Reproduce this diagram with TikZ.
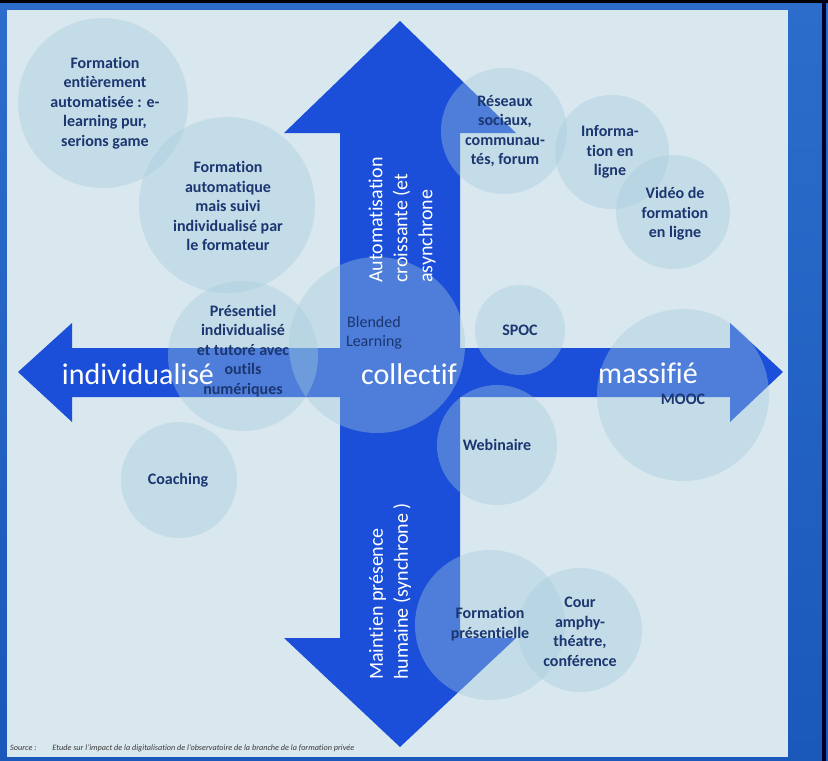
\documentclass[tikz,border=0pt]{standalone}
\usepackage{fontspec}
\setmainfont[Ligatures=NoCommon]{Carlito}
\definecolor{framec}{HTML}{1A58BA}
\definecolor{frametop}{HTML}{2C6DCB}
\definecolor{panelc}{HTML}{D9E7EE}
\definecolor{arrowblue}{HTML}{1B4FD9}
\definecolor{bubblec}{HTML}{A2CCDD}
\definecolor{navy}{HTML}{1B3670}
\definecolor{srcgray}{HTML}{3A3A3A}
\begin{document}
\begin{tikzpicture}[x=1pt,y=-1pt,
  bubble/.style={circle, fill=bubblec, fill opacity=0.38, draw=none, inner sep=0pt},
  btext/.style={font=\fontsize{16}{19.5}\selectfont\bfseries, text=navy, align=center, inner sep=0pt},
  bltext/.style={font=\fontsize{16}{19.5}\selectfont, text=navy, align=center, inner sep=0pt},
  axislabel/.style={font=\fontsize{30}{30}\selectfont, text=white, inner sep=0pt},
  vtext/.style={font=\fontsize{20}{25}\selectfont, text=white, rotate=90, align=left, anchor=west, inner sep=0pt},
  arrowshape/.style={fill=arrowblue, draw=none}]
\useasboundingbox (0,0) rectangle (828,761);
% frame
\shade[top color=frametop, bottom color=framec] (0,0) rectangle (828,761);
\fill[black] (0,0) rectangle (828,2.5);
\fill[black!85!blue] (822,0) rectangle (825.5,761);
\fill[panelc] (7,10) rectangle (788,757);
% arrows
\fill[arrowshape] (18,372) -- (72,323) -- (72,348) -- (730,348) -- (730,323) -- (783,372)
  -- (730,422) -- (730,397) -- (72,397) -- (72,422) -- cycle;
\fill[arrowshape] (400,21) -- (516,133) -- (460,133) -- (460,638) -- (516,638) -- (400,747)
  -- (284,638) -- (340,638) -- (340,133) -- (284,133) -- cycle;
% bubbles
\node[bubble, minimum size=170] (b1) at (103,103) {};
\node[bubble, minimum size=176] (b2) at (227,205) {};
\node[bubble, minimum size=150] (b3) at (243,356) {};
\node[bubble, minimum size=176] (b4) at (377,345) {};
\node[bubble, minimum size=116] (b5) at (179,480) {};
\node[bubble, minimum size=126] (b6) at (504,131) {};
\node[bubble, minimum size=114] (b7) at (612,152) {};
\node[bubble, minimum size=114] (b8) at (673,212) {};
\node[bubble, minimum size=90] (b9) at (520,330) {};
\node[bubble, minimum size=172] (b10) at (683,395) {};
\node[bubble, minimum size=120] (b11) at (497,445) {};
\node[bubble, minimum size=150] (b12) at (490,625) {};
\node[bubble, minimum size=124] (b13) at (580,630) {};
% bubble texts
\node[btext] (t1) at (105,103) {Formation\\entièrement\\automatisée : e-\\learning pur,\\serions game};
\node[btext] (t2) at (228,206) {Formation\\automatique\\mais suivi\\individualisé par\\le formateur};
\node[btext] (t3) at (243,351) {Présentiel\\individualisé\\et tutoré avec\\outils\\numériques};
\node[bltext] (t4) at (374,333) {Blended\\Learning};
\node[btext] (t5) at (178,480) {Coaching};
\node[btext] (t6) at (505,131) {Réseaux\\sociaux,\\communau-\\tés, forum};
\node[btext] (t7) at (610,152) {Informa-\\tion en\\ligne};
\node[btext] (t8) at (675,214) {Vidéo de\\formation\\en ligne};
\node[btext] (t9) at (520,330) {SPOC};
\node[btext] (t10) at (683,399) {MOOC};
\node[btext] (t11) at (497,445) {Webinaire};
\node[btext] (t12) at (490,624) {Formation\\présentielle};
\node[btext] (t13) at (580,632) {Cour\\amphy-\\théatre,\\conférence};
% axis labels
\node[axislabel] (ax1) at (138,374) {individualisé};
\node[axislabel] (ax2) at (409,374) {collectif};
\node[axislabel] (ax3) at (648,373) {massifié};
\node[vtext] (v1) at (402,283) {Automatisation\\croissante (et\\asynchrone};
\node[vtext] (v2) at (390,680) {Maintien présence\\humaine (synchrone )};
% source
\node[anchor=west, inner sep=0pt, font=\fontsize{8.2}{9}\selectfont\itshape, text=srcgray] (src) at (10,748)
  {Source :\hspace{16pt}Etude sur l'impact de la digitalisation de l'observatoire de la branche de la formation privée};
\end{tikzpicture}
\end{document}
